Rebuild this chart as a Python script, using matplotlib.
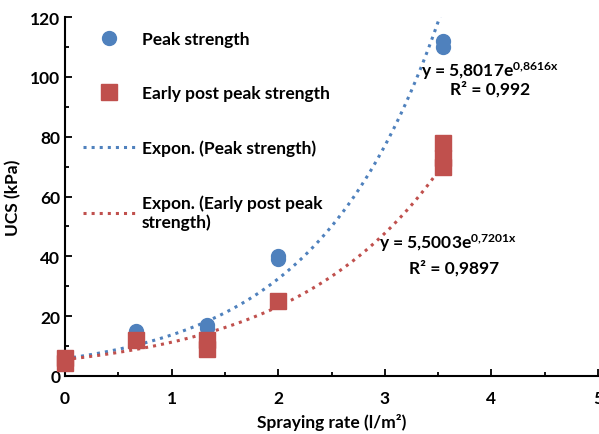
import numpy as np
import matplotlib.pyplot as plt

plt.rcParams['font.family'] = ['Lato', 'DejaVu Sans']
plt.rcParams['font.weight'] = 'bold'
plt.rcParams['mathtext.fontset'] = 'custom'
plt.rcParams['mathtext.rm'] = 'Lato:bold'
plt.rcParams['mathtext.bf'] = 'Lato:bold'
plt.rcParams['mathtext.default'] = 'bf'

# measured data
peak_x = [0, 0.67, 1.33, 1.33, 2, 2, 3.55, 3.55]
peak_y = [5, 15, 16, 17, 39, 40, 110, 112]
post_x = [0, 0, 0.67, 1.33, 1.33, 2, 3.55, 3.55, 3.55]
post_y = [4.5, 6, 12, 9, 12, 25, 70, 73, 78]

# exponential trendlines shown on the chart
peak_a, peak_b = 5.8017, 0.8616
post_a, post_b = 5.5003, 0.7201
fit_x = np.linspace(0, 3.55, 200)

blue = '#4F81BD'
red = '#C0504D'
fs = 12.5

fig = plt.figure(figsize=(5.99, 4.35), dpi=100)
ax = fig.add_axes([65/599, (435-377)/435, (598-65)/599, (377-18)/435])

ax.plot(peak_x, peak_y, 'o', color=blue, ms=10, label='Peak strength', zorder=3, clip_on=False)
ax.plot(post_x, post_y, 's', color=red, ms=11, label='Early post peak strength', zorder=3,
        clip_on=False)
ax.plot(fit_x, peak_a*np.exp(peak_b*fit_x), ':', color=blue, lw=2.2,
        label='Expon. (Peak strength)')
ax.plot(fit_x, post_a*np.exp(post_b*fit_x), ':', color=red, lw=2.2,
        label='Expon. (Early post peak\nstrength)')

ax.set_xlim(0, 5)
ax.set_ylim(0, 120)
ax.set_xticks([0, 1, 2, 3, 4, 5])
ax.set_yticks(range(0, 121, 20))
ax.set_xticks(np.arange(0, 5.01, 0.5), minor=True)
ax.set_yticks(range(0, 121, 10), minor=True)
ax.tick_params(which='both', direction='in', width=1.3, labelsize=fs)
ax.tick_params(which='major', length=5)
ax.tick_params(which='minor', length=3)
ax.tick_params(axis='x', pad=10)
for s in ['top', 'right']:
    ax.spines[s].set_visible(False)
for s in ['left', 'bottom']:
    ax.spines[s].set_linewidth(1.5)

ax.set_xlabel('Spraying rate (l/m²)', fontsize=fs, fontweight='bold', labelpad=5)
ax.set_ylabel('UCS (kPa)', fontsize=fs, fontweight='bold', labelpad=6)

ax.legend(loc='upper left', frameon=False, fontsize=fs, labelspacing=2.2,
          handlelength=3, handletextpad=0.4, bbox_to_anchor=(0.02, 0.98), borderaxespad=0)

ax.text(3.99, 102.3, r'y = 5,8017e$^{0{,}8616x}$', fontsize=fs, fontweight='bold',
        ha='center', va='center')
ax.text(3.99, 96.3, 'R² = 0,992', fontsize=fs, fontweight='bold', ha='center', va='center')
ax.text(3.59, 44.8, r'y = 5,5003e$^{0{,}7201x}$', fontsize=fs, fontweight='bold',
        ha='center', va='center')
ax.text(3.65, 36.4, 'R² = 0,9897', fontsize=fs, fontweight='bold', ha='center', va='center')

fig.savefig('out.png', dpi=100)
